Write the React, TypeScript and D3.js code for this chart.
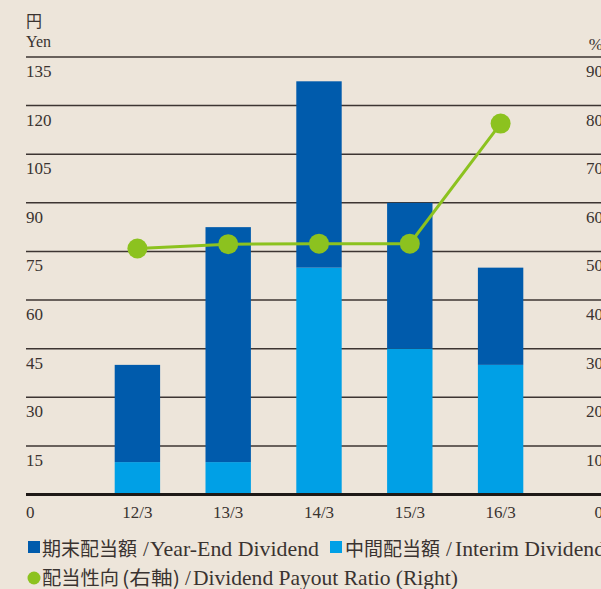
import React, { useRef, useEffect } from 'react';
import * as d3 from 'd3';

const categories = ['12/3', '13/3', '14/3', '15/3', '16/3'];
const interim = [10, 10, 70, 45, 40];
const yearEnd = [30, 72.5, 57.5, 45, 30];
const payoutRatio = [50.6, 51.5, 51.6, 51.6, 76.3];
const leftTicks = [0, 15, 30, 45, 60, 75, 90, 105, 120, 135];
const rightTicks = [0, 10, 20, 30, 40, 50, 60, 70, 80, 90];

const W = 601;
const H = 589;
const SERIF = '"Liberation Serif", "Times New Roman", serif';
const CJK = '"Noto Sans CJK JP", sans-serif';
const TEXT = '#3a3330';

const App = () => {
  const svgRef = useRef<SVGSVGElement>(null);

  useEffect(() => {
    const svg = d3.select(svgRef.current);
    svg.selectAll('*').remove();

    const left = 26;
    const top = 57;
    const bottom = 494.5;

    // bg
    svg.append('rect').attr('width', W).attr('height', H).attr('fill', '#ede5da');

    const y = d3.scaleLinear().domain([0, 135]).range([bottom, top]);
    const yR = d3.scaleLinear().domain([0, 90]).range([bottom, top]);
    const x = d3.scaleBand().domain(categories).range([92, 546]).paddingInner(0.5).paddingOuter(0.25);

    // grid lines
    svg
      .append('g')
      .selectAll('line')
      .data(leftTicks.filter((d) => d > 0))
      .join('line')
      .attr('x1', left)
      .attr('x2', W)
      .attr('y1', (d) => y(d))
      .attr('y2', (d) => y(d))
      .style('stroke', '#3d3532')
      .style('stroke-width', 1.5);

    // left tick labels
    svg
      .append('g')
      .selectAll('text')
      .data(leftTicks)
      .join('text')
      .text((d) => d)
      .attr('x', left)
      .attr('y', (d) => y(d) + 20)
      .attr('dy', (d) => (d === 0 ? 3 : 0))
      .style('font-family', SERIF)
      .style('font-size', '17px')
      .style('fill', TEXT);

    // right tick labels (cut by the edge like the original)
    svg
      .append('g')
      .selectAll('text')
      .data(rightTicks)
      .join('text')
      .text((d) => d)
      .attr('x', 603)
      .attr('y', (d) => yR(d) + 20)
      .attr('dy', (d) => (d === 0 ? 3 : 0))
      .attr('text-anchor', 'end')
      .style('font-family', SERIF)
      .style('font-size', '17px')
      .style('fill', TEXT);

    // stacked bars
    const stack = categories.map((c, i) => ({ c, interim: interim[i], yearEnd: yearEnd[i] }));
    const bars = svg.append('g');
    bars
      .selectAll('rect.interim')
      .data(stack)
      .join('rect')
      .attr('class', 'interim')
      .attr('x', (d) => x(d.c)!)
      .attr('width', x.bandwidth())
      .attr('y', (d) => y(d.interim))
      .attr('height', (d) => y(0) - y(d.interim))
      .style('fill', '#00a0e6');
    bars
      .selectAll('rect.yearend')
      .data(stack)
      .join('rect')
      .attr('class', 'yearend')
      .attr('x', (d) => x(d.c)!)
      .attr('width', x.bandwidth())
      .attr('y', (d) => y(d.interim + d.yearEnd))
      .attr('height', (d) => y(d.interim) - y(d.interim + d.yearEnd))
      .style('fill', '#005bac');

    // zero axis
    svg
      .append('line')
      .attr('x1', left)
      .attr('x2', W)
      .attr('y1', y(0))
      .attr('y2', y(0))
      .style('stroke', '#1e1916')
      .style('stroke-width', 3);

    // x labels
    svg
      .append('g')
      .selectAll('text')
      .data(categories)
      .join('text')
      .text((d) => d)
      .attr('x', (d) => x(d)! + x.bandwidth() / 2)
      .attr('y', 518)
      .attr('text-anchor', 'middle')
      .style('font-family', SERIF)
      .style('font-size', '17px')
      .style('fill', TEXT);

    // payout ratio line
    const pts = categories.map((c, i) => [x(c)! + x.bandwidth() / 2, yR(payoutRatio[i])] as [number, number]);
    svg
      .append('path')
      .attr('d', d3.line()(pts))
      .style('fill', 'none')
      .style('stroke', '#8cc21f')
      .style('stroke-width', 3);
    svg
      .append('g')
      .selectAll('circle')
      .data(pts)
      .join('circle')
      .attr('cx', (d) => d[0])
      .attr('cy', (d) => d[1])
      .attr('r', 10)
      .style('fill', '#8cc21f');

    // unit labels
    svg.append('text').text('円').attr('x', left).attr('y', 27)
      .style('font-family', CJK).style('font-size', '16px').style('fill', TEXT);
    svg.append('text').text('Yen').attr('x', left).attr('y', 47)
      .style('font-family', SERIF).style('font-size', '16px').style('fill', TEXT);
    svg.append('text').text('%').attr('x', 603).attr('y', 50).attr('text-anchor', 'end')
      .style('font-family', SERIF).style('font-size', '17px').style('fill', TEXT);

    // legend, laid out piece by piece
    const leg = svg.append('g').style('fill', TEXT);
    const seg = (t: string, x0: number, yb: number, font: string, size: number, len?: number) => {
      const el = leg.append('text').text(t).attr('x', x0).attr('y', yb)
        .style('font-family', font).style('font-size', `${size}px`);
      if (len) el.attr('textLength', len).attr('lengthAdjust', 'spacingAndGlyphs');
      return el;
    };
    leg.append('rect').attr('x', 28).attr('y', 541).attr('width', 12).attr('height', 12).style('fill', '#005bac');
    seg('期末配当額', 42, 556, CJK, 19, 95);
    seg('/', 143, 556, SERIF, 21);
    seg('Year-End Dividend', 150, 556, SERIF, 21, 169);
    leg.append('rect').attr('x', 330).attr('y', 541).attr('width', 12).attr('height', 12).style('fill', '#00a0e6');
    seg('中間配当額', 345, 556, CJK, 19, 95);
    seg('/', 446, 556, SERIF, 21);
    seg('Interim Dividend', 455, 556, SERIF, 21, 150);
    leg.append('circle').attr('cx', 34).attr('cy', 578).attr('r', 6.5).style('fill', '#8cc21f');
    seg('配当性向', 42, 585, CJK, 19, 77);
    seg('(右軸)', 122, 585, CJK, 19, 58);
    seg('/', 185, 585, SERIF, 21);
    seg('Dividend Payout Ratio (Right)', 193, 585, SERIF, 21, 265);
  }, []);

  return (
    <div>
      <svg ref={svgRef} width={W} height={H} style={{ position: 'absolute', left: 0, top: 0 }}></svg>
    </div>
  );
};

export default App;
